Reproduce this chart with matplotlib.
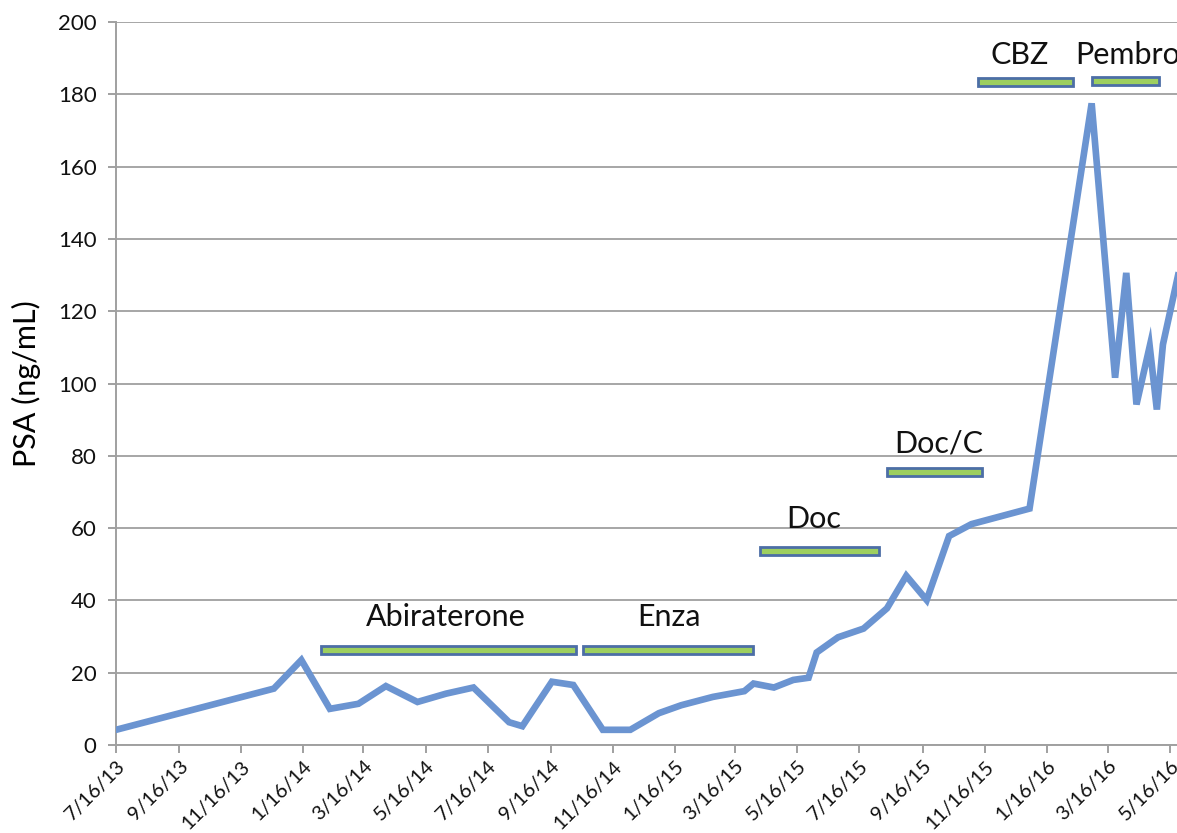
import matplotlib
matplotlib.use('Agg')
from matplotlib import pyplot as plt
import matplotlib.dates as mdates
from datetime import datetime

psa_dates = ["2013-07-16", "2013-12-18", "2014-01-14", "2014-02-11", "2014-03-11",
             "2014-04-07", "2014-05-08", "2014-06-05", "2014-07-02", "2014-08-06",
             "2014-08-19", "2014-09-17", "2014-10-08", "2014-11-06", "2014-12-03",
             "2014-12-31", "2015-01-22", "2015-02-22", "2015-03-25", "2015-04-03",
             "2015-04-23", "2015-05-12", "2015-05-27", "2015-06-04", "2015-06-25",
             "2015-07-20", "2015-08-12", "2015-08-31", "2015-09-20", "2015-10-12",
             "2015-11-03", "2015-12-30", "2016-02-29", "2016-03-23", "2016-04-03",
             "2016-04-13", "2016-04-26", "2016-05-03", "2016-05-09", "2016-05-27"]
psa_values = [4.2, 15.6, 23.5, 10.0, 11.4,
              16.3, 11.9, 14.2, 15.9, 6.3,
              5.2, 17.5, 16.6, 4.2, 4.2,
              8.8, 11.0, 13.3, 14.9, 17.0,
              15.9, 18.0, 18.6, 25.6, 29.8,
              32.2, 37.8, 46.8, 40.1, 57.8,
              61.1, 65.4, 177.5, 101.6, 130.6,
              94.2, 110.3, 92.8, 110.8, 134.0]

# treatment periods
treatments = ["Abiraterone", "Enza", "Doc", "Doc/C", "CBZ", "Pembro"]
treat_start = ["2014-02-02", "2014-10-18", "2015-04-09", "2015-08-12", "2015-11-09", "2016-02-29"]
treat_end = ["2014-10-11", "2015-04-02", "2015-08-04", "2015-11-13", "2016-02-11", "2016-05-05"]
treat_level = [26.3, 26.3, 53.7, 75.5, 183.4, 183.7]
label_level = [35.4, 35.4, 62.5, 83.5, 191.0, 191.0]
label_center = ["2014-06-05", "2015-01-10", "2015-06-01", "2015-10-02", "2015-12-20", "2016-04-04"]

tick_labels = ["7/16/13", "9/16/13", "11/16/13", "1/16/14", "3/16/14", "5/16/14",
               "7/16/14", "9/16/14", "11/16/14", "1/16/15", "3/16/15", "5/16/15",
               "7/16/15", "9/16/15", "11/16/15", "1/16/16", "3/16/16", "5/16/16"]

plt.rcParams['font.family'] = ['Lato', 'DejaVu Sans']

def to_num(s):
    return mdates.date2num(datetime.strptime(s, "%Y-%m-%d"))

x = [to_num(d) for d in psa_dates]
ticks = [mdates.date2num(datetime.strptime(t, "%m/%d/%y")) for t in tick_labels]

fig = plt.figure(figsize=(11.77, 8.33), dpi=100)
ax = fig.add_axes([116 / 1177, 88 / 833, 1 - 116 / 1177, 723 / 833])

ax.set_ylim(0, 200)
ax.set_yticks(range(0, 201, 20))
ax.set_xlim(ticks[0], ticks[0] + 1041.8)
ax.yaxis.grid(True, color='#a6a6a6', linewidth=1.4)
ax.set_axisbelow(True)

ax.plot(x, psa_values, color='#6b94d1', linewidth=4.8, solid_joinstyle='miter', zorder=3)

for name, s, e, lv, tl, c in zip(treatments, treat_start, treat_end, treat_level,
                                 label_level, label_center):
    xs, xe = to_num(s), to_num(e)
    ax.barh(lv, xe - xs, left=xs, height=2.2, color='#9dcf5f',
            edgecolor='#4c6ea6', linewidth=2, zorder=4, clip_on=False)
    ax.text(to_num(c), tl, name, ha='center', va='center', fontsize=22,
            color='#111111', clip_on=False)

ax.set_xticks(ticks)
ax.set_xticklabels(tick_labels, rotation=45, ha='right', va='top',
                   rotation_mode='anchor', fontsize=14.5)
for lab in ax.get_yticklabels():
    lab.set_fontsize(16)
ax.tick_params(axis='both', colors='#a0a0a0', labelcolor='#111111', length=6, width=1.4)
ax.tick_params(axis='y', pad=8)
ax.tick_params(axis='x', pad=3)

for side in ['top', 'right']:
    ax.spines[side].set_visible(False)
for side in ['left', 'bottom']:
    ax.spines[side].set_color('#a0a0a0')
    ax.spines[side].set_linewidth(1.4)

ax.set_ylabel("PSA (ng/mL)", fontsize=22, labelpad=12)

fig.savefig("out.png", dpi=100)
